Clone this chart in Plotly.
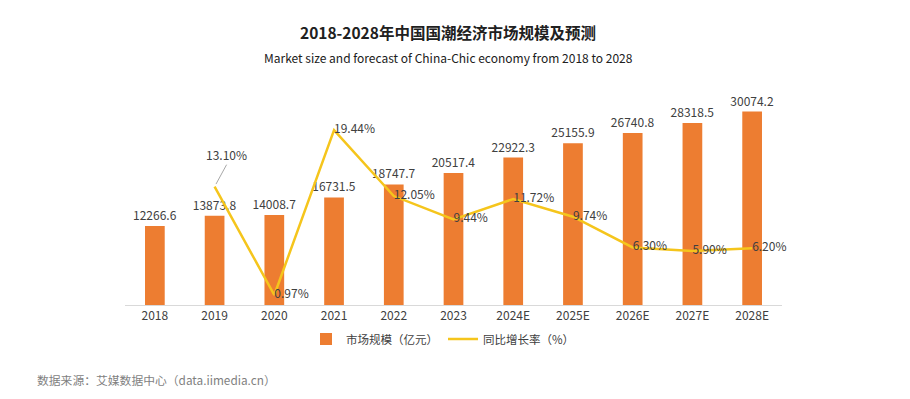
import plotly.graph_objects as go

years = ["2018", "2019", "2020", "2021", "2022", "2023", "2024E", "2025E", "2026E", "2027E", "2028E"]
market_size = [12266.6, 13873.8, 14008.7, 16731.5, 18747.7, 20517.4, 22922.3, 25155.9, 26740.8, 28318.5, 30074.2]
growth = [None, 13.10, 0.97, 19.44, 12.05, 9.44, 11.72, 9.74, 6.30, 5.90, 6.20]

title = "2018-2028年中国国潮经济市场规模及预测"
subtitle = "Market size and forecast of China-Chic economy from 2018 to 2028"
source = "数据来源：艾媒数据中心（data.iimedia.cn）"
bar_name = "市场规模（亿元）"
line_name = "同比增长率（%）"

FONT = "Noto Sans CJK SC, Noto Sans, sans-serif"
OFF = 8  # page body margin
W, H = 910 - OFF, 399 - OFF
L, R, T, B = 125 - OFF, 128, 100 - OFF, 94
PH = H - T - B

def ypos(ypix):
    return 1 - (ypix - OFF - T) / PH

def xpos(xpix):
    return (xpix - OFF - L) / (W - L - R)

xi = list(range(len(years)))
line_text = ["" if (g is None or i == 1) else f"{g:.2f}%" for i, g in enumerate(growth)]

fig = go.Figure()
fig.add_trace(go.Bar(
    x=xi, y=market_size, name=bar_name,
    marker=dict(color="#ED7D31", line=dict(width=0)),
    text=[f"{v:.1f}" for v in market_size], textposition="outside",
    constraintext="none", textangle=0,
    textfont=dict(size=12, color="#404040", family=FONT),
    cliponaxis=False, yaxis="y",
))
fig.add_trace(go.Scatter(
    x=xi, y=growth, name=line_name, mode="lines+text",
    line=dict(color="#F5C51C", width=2.5),
    text=line_text, textposition="middle right",
    textfont=dict(size=12, color="#404040", family=FONT),
    cliponaxis=False, yaxis="y2", connectgaps=False,
))

fig.add_annotation(
    x=xi[1], y=growth[1], xref="x", yref="y2",
    text=f"{growth[1]:.2f}%", showarrow=True, arrowhead=0, arrowwidth=0.8,
    arrowcolor="#909090", ax=12, ay=-22, xanchor="center", yanchor="bottom",
    font=dict(size=12, color="#404040", family=FONT), standoff=3,
)

fig.add_annotation(text=f"<b>{title}</b>", xref="paper", yref="paper",
                   x=xpos(448), y=ypos(32), xanchor="center", yanchor="middle",
                   showarrow=False, font=dict(size=15.5, color="#202020", family=FONT))
fig.add_annotation(text=subtitle, xref="paper", yref="paper",
                   x=xpos(448), y=ypos(57), xanchor="center", yanchor="middle",
                   showarrow=False, font=dict(size=12, color="#202020", family=FONT))
fig.add_annotation(text=source, xref="paper", yref="paper",
                   x=xpos(35), y=ypos(379), xanchor="left", yanchor="middle",
                   showarrow=False, font=dict(size=11.8, color="#7F7F7F", family=FONT))

fig.update_layout(
    width=W, height=H,
    margin=dict(l=L, r=R, t=T, b=B, autoexpand=False),
    paper_bgcolor="white", plot_bgcolor="white",
    bargap=0.67,
    showlegend=True,
    legend=dict(orientation="h", x=xpos(443), y=ypos(339), xanchor="center", yanchor="middle",
                font=dict(size=11.5, color="#404040", family=FONT),
                itemwidth=30, tracegroupgap=0, bgcolor="rgba(0,0,0,0)"),
    xaxis=dict(range=[-0.5, len(years) - 0.5], tickmode="array", tickvals=xi, ticktext=years,
               showline=True, linecolor="#D9D9D9", linewidth=1, ticks="", zeroline=False,
               tickfont=dict(size=12, color="#404040", family=FONT), showgrid=False),
    yaxis=dict(range=[0, PH * 155.5], visible=False, showgrid=False),
    yaxis2=dict(range=[-0.15, -0.15 + PH / 8.93], overlaying="y", side="right",
                visible=False, showgrid=False),
)

fig.write_html("out.html")
